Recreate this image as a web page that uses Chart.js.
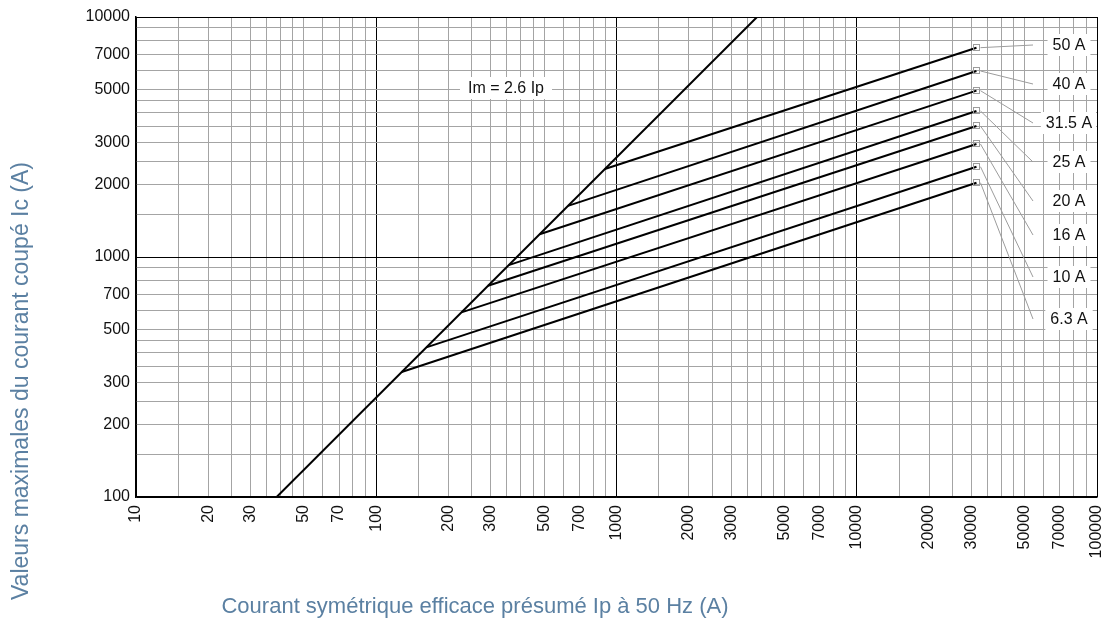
<!DOCTYPE html>
<html>
<head>
<meta charset="utf-8">
<script src="https://cdn.jsdelivr.net/npm/chart.js@4"></script>
<style>
  html, body { margin: 0; padding: 0; background: #fff; }
  #box { width: 1104px; height: 622px; position: relative; }
</style>
</head>
<body>
<div id="box"><canvas id="grafik"></canvas></div>
<script>
// Droite Im = 2.6 Ip (courant présumé -> courant coupé)
var imLineIp = [38.5, 3846];
var imLineIc = [100, 10000];

// Calibres des fusibles
var fuseRatings = ['6.3 A', '10 A', '16 A', '20 A', '25 A', '31.5 A', '40 A', '50 A'];
// début de chaque droite (sur la droite Im = 2.6 Ip)
var fuseKneeIp = [127.6, 161.6, 226.3, 291.8, 355.9, 478.6, 628.2, 894.3];
var fuseKneeIc = [332, 420, 588, 759, 925, 1244, 1633, 2325];
// fin de chaque droite
var fuseEndIp = 31500;
var fuseEndIc = [2040, 2378, 2956, 3514, 4059, 4932, 5957, 7450];

// étiquettes des axes
var xTickLabels = [10, 20, 30, 50, 70, 100, 200, 300, 500, 700, 1000, 2000, 3000, 5000, 7000,
                   10000, 20000, 30000, 50000, 70000, 100000];
var yTickLabels = [100, 200, 300, 500, 700, 1000, 2000, 3000, 5000, 7000, 10000];
var decades = [10, 100, 1000, 10000, 100000];

// lignes de la grille dans chaque décade
var gridSteps = [1, 1.5, 2, 2.5, 3, 3.5, 4, 4.5, 5, 6, 7, 8, 9];
function gridValues(min, max) {
    var out = [];
    for (var d = min; d < max; d *= 10) {
        gridSteps.forEach(function (m) { out.push(Math.round(m * d)); });
    }
    out.push(max);
    return out;
}

var tickFont = { family: '"Liberation Sans", Arial, sans-serif', size: 16, lineHeight: 1 };
var gridColor = function (ctx) {
    return decades.indexOf(ctx.tick && ctx.tick.value) >= 0 ? '#000000' : '#a4a4a4';
};

var datasets = [{
    label: 'Im = 2.6 Ip',
    data: imLineIp.map(function (x, i) { return { x: x, y: imLineIc[i] }; })
}];
fuseRatings.forEach(function (r, i) {
    datasets.push({
        label: r,
        data: [{ x: fuseKneeIp[i], y: fuseKneeIc[i] }, { x: fuseEndIp, y: fuseEndIc[i] }]
    });
});
datasets.forEach(function (ds) {
    ds.showLine = true;
    ds.borderColor = '#000';
    ds.borderWidth = 2;
    ds.pointRadius = 0;
    ds.fill = false;
});

// positions des étiquettes à droite (pixels)
var labelY = [319, 277, 235, 201, 162, 123, 84, 45];
var labelX = 1069;
var leaderX = 1033;

var annotations = {
    id: 'annotations',
    afterDatasetsDraw: function (chart) {
        var c = chart.ctx;
        var area = chart.chartArea;
        c.save();
        c.font = '16px "Liberation Sans", Arial, sans-serif';
        c.textBaseline = 'middle';
        c.textAlign = 'center';

        // Im = 2.6 Ip
        var t = 'Im = 2.6 Ip';
        var w = c.measureText(t).width;
        c.fillStyle = '#fff';
        c.fillRect(506 - w / 2 - 8, 77, w + 16, 22);
        c.fillStyle = '#111';
        c.fillText(t, 506, 89);

        fuseRatings.forEach(function (r, i) {
            var p = chart.getDatasetMeta(i + 1).data[1];
            c.strokeStyle = '#9c9c9c';
            c.lineWidth = 1;
            c.strokeRect(Math.round(p.x) - 2.5, Math.round(p.y) - 3.5, 6, 6);
            c.beginPath();
            c.moveTo(p.x + 4, p.y);
            c.lineTo(leaderX, labelY[i]);
            c.stroke();

            var tw = c.measureText(r).width;
            var left = labelX - tw / 2 - 5;
            var right = Math.min(labelX + tw / 2 + 5, area.right - 1);
            c.fillStyle = '#fff';
            c.fillRect(left, labelY[i] - 11, right - left, 22);
            c.fillStyle = '#111';
            c.fillText(r, labelX, labelY[i] + 1);
        });
        c.restore();
    },
    afterDraw: function (chart) {
        var c = chart.ctx;
        c.save();
        c.fillStyle = '#5b80a2';
        c.textAlign = 'center';
        c.textBaseline = 'alphabetic';
        c.font = '22px "Liberation Sans", Arial, sans-serif';
        c.fillText('Courant symétrique efficace présumé Ip à 50 Hz (A)', 475, 613);
        c.font = '23px "Liberation Sans", Arial, sans-serif';
        c.translate(28, 381);
        c.rotate(-Math.PI / 2);
        c.fillText('Valeurs maximales du courant coupé Ic (A)', 0, 0);
        c.restore();
    }
};

var config = {
    type: 'scatter',
    data: { datasets: datasets },
    options: {
        responsive: true,
        maintainAspectRatio: false,
        animation: false,
        devicePixelRatio: 1,
        layout: { padding: { top: 17, right: 7, left: 0, bottom: 0 } },
        plugins: { legend: { display: false }, tooltip: { enabled: false } },
        scales: {
            x: {
                type: 'logarithmic',
                min: 10,
                max: 100000,
                afterBuildTicks: function (scale) {
                    scale.ticks = gridValues(10, 100000).map(function (v) { return { value: v }; });
                },
                afterFit: function (scale) {
                    scale.height = 125;
                    scale.paddingLeft = 0;
                    scale.paddingRight = 0;
                },
                ticks: {
                    autoSkip: false,
                    minRotation: 90,
                    maxRotation: 90,
                    padding: 8,
                    color: '#111',
                    font: tickFont,
                    callback: function (value) {
                        return xTickLabels.indexOf(value) >= 0 ? String(value) : '';
                    }
                },
                grid: { color: gridColor, lineWidth: 1, drawTicks: false },
                border: { color: '#000', width: 1.5 }
            },
            y: {
                type: 'logarithmic',
                min: 100,
                max: 10000,
                afterBuildTicks: function (scale) {
                    scale.ticks = gridValues(100, 10000).map(function (v) { return { value: v }; });
                },
                afterFit: function (scale) {
                    scale.width = 136;
                    scale.paddingTop = 0;
                    scale.paddingBottom = 0;
                },
                ticks: {
                    autoSkip: false,
                    padding: 6,
                    color: '#111',
                    font: tickFont,
                    callback: function (value) {
                        return yTickLabels.indexOf(value) >= 0 ? String(value) : '';
                    }
                },
                grid: { color: gridColor, lineWidth: 1, drawTicks: false },
                border: { color: '#000', width: 1.5 }
            }
        }
    },
    plugins: [annotations]
};

var myChart = new Chart(document.getElementById('grafik'), config);
</script>
</body>
</html>
